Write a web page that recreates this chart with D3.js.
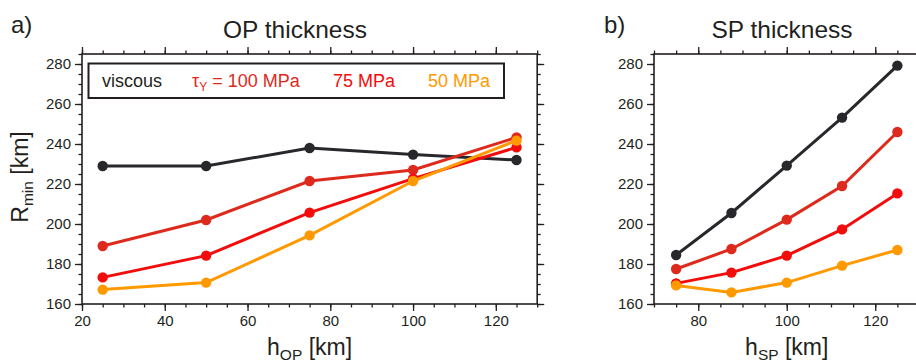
<!DOCTYPE html>
<html><head><meta charset="utf-8">
<script src="https://cdn.jsdelivr.net/npm/d3@7"></script>
<style>
html,body{margin:0;padding:0;background:#fff;}
text{font-family:"Liberation Sans",Arial,Helvetica,sans-serif;fill:#231f20;}
</style></head>
<body><svg id="c" width="916" height="363"></svg>
<script>
// ---- data ----
const hOP = [25, 50, 75, 100, 125];
const hSP = [75, 87.5, 100, 112.5, 125];
const opViscous = [229, 229, 238, 234.7, 232];
const op100 = [189, 202, 221.5, 227, 243.3];
const op75 = [173.3, 184.2, 205.7, 222.7, 238.3];
const op50 = [167.2, 170.7, 194.3, 221.5, 241.7];
const spViscous = [184.5, 205.5, 229.2, 253.2, 279.2];
const sp100 = [177.5, 187.5, 202.2, 219, 246];
const sp75 = [170.3, 175.7, 184.2, 197.3, 215.3];
const sp50 = [169.3, 165.8, 170.7, 179.2, 187];
const seriesNames = ["viscous", "100 MPa", "75 MPa", "50 MPa"];
const seriesColors = ["#28272b", "#dd2a1c", "#f20c0c", "#ff9900"];
const yTicks = [160, 180, 200, 220, 240, 260, 280];
const xTicksOP = [20, 40, 60, 80, 100, 120];
const xTicksSP = [80, 100, 120];

const svg = d3.select("#c");
const axisColor = "#231f20";

function panel(opts) {
  const x = d3.scaleLinear().domain(opts.xDomain).range(opts.xRange);
  const y = d3.scaleLinear().domain([160, 285]).range([304, 54]);
  const g = svg.append("g");
  const x0 = opts.xRange[0], x1 = opts.xRange[1], y0 = 304, y1 = 54;
  const xMinor = d3.range(opts.xDomain[0], opts.xDomain[1] + 0.01, 5);
  const yMinor = d3.range(160, 285.01, 5);

  function addAxis(axisFn, scale, transform, majors, minors, labels) {
    const a = g.append("g").attr("transform", transform);
    a.call(axisFn(scale).tickValues(minors).tickSize(3.5).tickSizeOuter(0).tickFormat(""));
    a.select(".domain").remove();
    const b = g.append("g").attr("transform", transform);
    b.call(axisFn(scale).tickValues(majors).tickSize(7).tickSizeOuter(0).tickPadding(4)
      .tickFormat(labels ? d3.format("d") : ""));
    b.select(".domain").remove();
    g.selectAll(".tick line").attr("stroke", axisColor).attr("stroke-width", 1.3);
    b.selectAll(".tick text").style("font-size", "15px").attr("fill", "#231f20");
  }
  addAxis(d3.axisBottom, x, `translate(0,${y0})`, opts.xTicks, xMinor, true);
  addAxis(d3.axisTop, x, `translate(0,${y1})`, opts.xTicks, xMinor, false);
  addAxis(d3.axisLeft, y, `translate(${x0},0)`, yTicks, yMinor, true);
  addAxis(d3.axisRight, y, `translate(${x1},0)`, yTicks, yMinor, false);
  g.append("rect").attr("x", x0).attr("y", y1).attr("width", x1 - x0).attr("height", y0 - y1)
    .attr("fill", "none").attr("stroke", axisColor).attr("stroke-width", 1.6);

  const line = d3.line().x(d => x(d[0])).y(d => y(d[1]));
  opts.series.forEach((vals, i) => {
    const pts = opts.xs.map((xv, j) => [xv, vals[j]]);
    g.append("path").attr("d", line(pts)).attr("fill", "none")
      .attr("stroke", seriesColors[i]).attr("stroke-width", 3);
    g.selectAll(null).data(pts).enter().append("circle")
      .attr("cx", d => x(d[0])).attr("cy", d => y(d[1])).attr("r", 5.2)
      .attr("fill", seriesColors[i]);
  });

  g.append("text").attr("x", opts.titleX).attr("y", 38).attr("text-anchor", "middle")
    .style("font-size", "24.5px").text(opts.title);
  g.append("text").attr("x", opts.letterX).attr("y", 33).style("font-size", "24px").text(opts.letter);

  const xl = g.append("text").attr("x", (x0 + x1) / 2).attr("y", 355).attr("text-anchor", "middle")
    .style("font-size", "23px");
  xl.append("tspan").text("h");
  xl.append("tspan").attr("dy", 5).style("font-size", "15.5px").text(opts.sub);
  xl.append("tspan").attr("dy", -5).text(" [km]");
  return {x, y, g};
}

panel({xDomain: [20, 130], xRange: [82, 537.2], xTicks: xTicksOP, xs: hOP,
  series: [opViscous, op100, op75, op50], title: "OP thickness", titleX: 295,
  letter: "a)", letterX: 11, sub: "OP"});
panel({xDomain: [70, 130], xRange: [654, 919.5], xTicks: xTicksSP, xs: hSP,
  series: [spViscous, sp100, sp75, sp50], title: "SP thickness", titleX: 782,
  letter: "b)", letterX: 604, sub: "SP"});

// y label
const yl = svg.append("text").attr("transform", "translate(28,177) rotate(-90)")
  .attr("text-anchor", "middle").style("font-size", "23px");
yl.append("tspan").text("R");
yl.append("tspan").attr("dy", 5).style("font-size", "15.5px").text("min");
yl.append("tspan").attr("dy", -5).text(" [km]");

// legend
const lg = svg.append("g");
lg.append("rect").attr("x", 88.5).attr("y", 63.5).attr("width", 415.5).attr("height", 34.5)
  .attr("fill", "#fff").attr("stroke", axisColor).attr("stroke-width", 2);
lg.append("text").attr("x", 102).attr("y", 87).style("font-size", "18px")
  .attr("fill", seriesColors[0]).text(seriesNames[0]);
const t1 = lg.append("text").attr("x", 192).attr("y", 87).style("font-size", "18px")
  .style("fill", seriesColors[1]);
t1.append("tspan").text("τ");
t1.append("tspan").attr("dy", 4).style("font-size", "12px").text("Y");
t1.append("tspan").attr("dy", -4).text(" = " + seriesNames[1]);
lg.append("text").attr("x", 333).attr("y", 87).style("font-size", "18px")
  .style("fill", seriesColors[2]).text(seriesNames[2]);
lg.append("text").attr("x", 428).attr("y", 87).style("font-size", "18px")
  .style("fill", seriesColors[3]).text(seriesNames[3]);
</script></body></html>
